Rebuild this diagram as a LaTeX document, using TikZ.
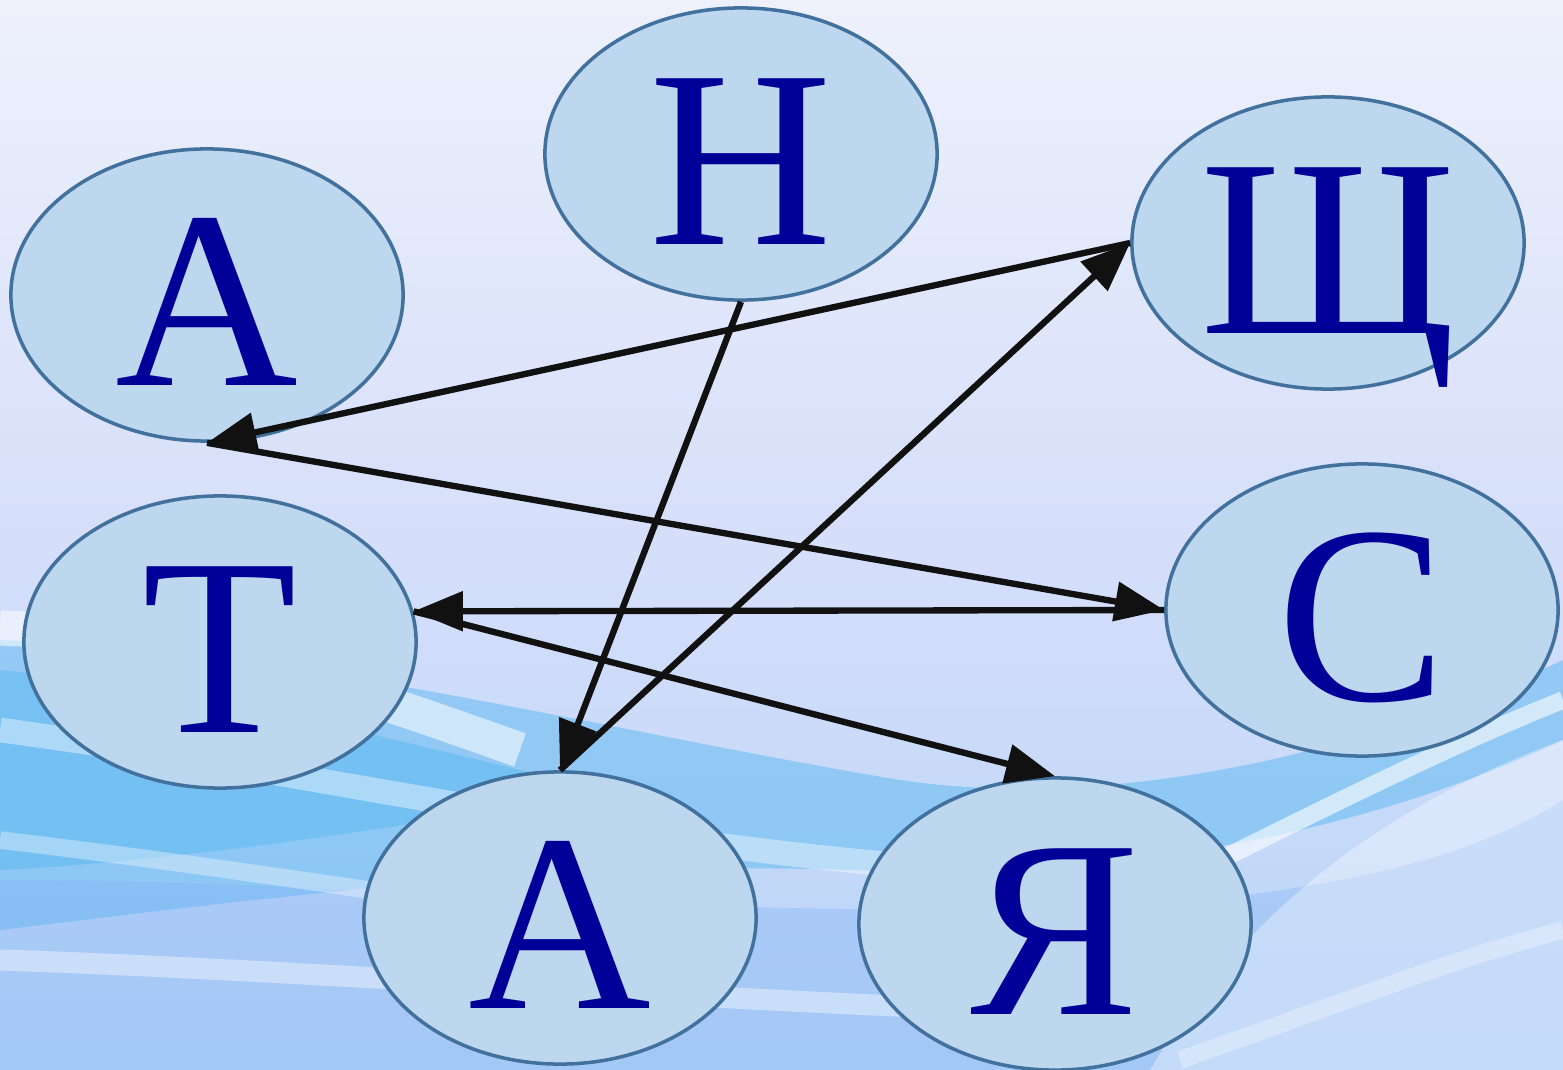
\documentclass[tikz,border=0pt]{standalone}
\usepackage{fontspec}
\setmainfont{Liberation Serif}
\usetikzlibrary{shapes.geometric,arrows.meta}
\definecolor{bgtop}{HTML}{EEF1FC}
\definecolor{bgmid}{HTML}{D6DFFA}
\definecolor{bgbot}{HTML}{B8D4F8}
\definecolor{wave}{HTML}{4DB4F0}
\definecolor{wave2}{HTML}{7FB2F5}
\definecolor{ellfill}{HTML}{BDD7EE}
\definecolor{elldraw}{HTML}{41719C}
\definecolor{lettercol}{HTML}{000099}
\definecolor{arrowcol}{HTML}{111111}
\tikzset{
  letterbox/.style={ellipse, draw=elldraw, line width=1pt, fill=ellfill,
    minimum width=3.92cm, minimum height=2.92cm, inner sep=0pt,
    text=lettercol, font=\fontsize{72}{72}\selectfont,
    text height=51.5pt, text depth=0pt},
  link/.style={draw=arrowcol, line width=1.8pt,
    -{Triangle[length=14pt,width=11pt]}},
  streak/.style={white, line cap=butt}
}
\begin{document}
\begin{tikzpicture}[x=0.01cm,y=-0.01cm]
\useasboundingbox (0,0) rectangle (1563,1070);
% background
\shade[top color=bgtop, bottom color=bgbot, middle color=bgmid] (0,0) rectangle (1563,1070);
% main cyan band
\fill[wave, opacity=0.45] (0,640) .. controls (300,650) and (600,730) .. (900,780)
  .. controls (1100,810) and (1350,760) .. (1563,660) -- (1563,740)
  .. controls (1350,840) and (1100,880) .. (850,870)
  .. controls (550,860) and (250,900) .. (0,930) -- cycle;
\fill[wave, opacity=0.4] (0,670) .. controls (200,690) and (400,740) .. (600,790)
  .. controls (450,820) and (200,860) .. (0,870) -- cycle;
\fill[wave2, opacity=0.35] (0,880) .. controls (400,880) and (800,930) .. (1200,900)
  .. controls (1400,880) and (1500,840) .. (1563,800) -- (1563,1070) -- (0,1070) -- cycle;
\fill[white, opacity=0.35] (1150,1070) .. controls (1250,900) and (1400,800) .. (1563,740)
  -- (1563,1070) -- cycle;
% soft white streaks
\draw[streak, opacity=0.55, line width=10pt] (0,628) .. controls (200,635) and (350,690) .. (520,750);
\draw[streak, opacity=0.4, line width=7pt] (0,730) .. controls (300,770) and (600,840) .. (900,865);
\draw[streak, opacity=0.4, line width=6pt] (0,960) .. controls (300,970) and (700,1000) .. (1000,1010);
\draw[streak, opacity=0.35, line width=5pt] (0,840) .. controls (250,870) and (500,910) .. (700,940);
\draw[streak, opacity=0.6, line width=5pt] (1180,880) .. controls (1320,810) and (1450,745) .. (1563,700);
\draw[streak, opacity=0.3, line width=5pt] (1180,1060) .. controls (1350,1000) and (1450,960) .. (1563,930);
% nodes
\node[letterbox] (A1) at (207,295) {А};
\node[letterbox] (N)  at (741,154) {Н};
\node[letterbox] (Sh) at (1328,243) {Щ};
\node[letterbox] (T)  at (220,642) {Т};
\node[letterbox] (S)  at (1362,610) {С};
\node[letterbox] (A2) at (560,918) {А};
\node[letterbox] (Ya) at (1055,924) {Я};
% connectors
\draw[link] (Sh.west) -- (A1.south);
\draw[link] (A1.south) -- (S.west);
\draw[link] (S.west) -- (T.9);
\draw[link] (T.9) -- (Ya.north);
\draw[link] (N.south) -- (A2.north);
\draw[link] (A2.north) -- (Sh.west);
\end{tikzpicture}
\end{document}
